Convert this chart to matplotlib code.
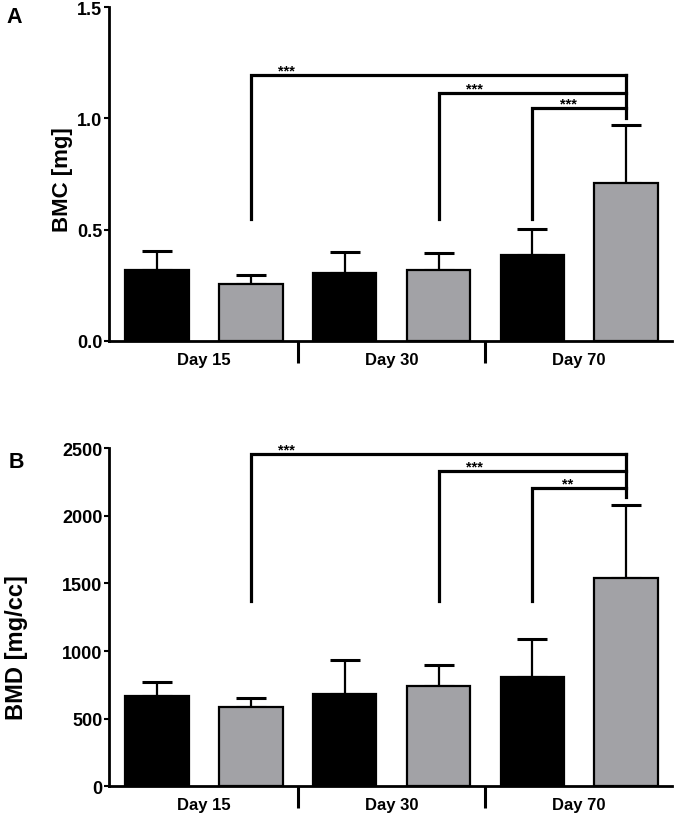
import numpy as np
import matplotlib.pyplot as plt

plt.rcParams['font.family'] = ['Liberation Sans', 'DejaVu Sans']
plt.rcParams['font.weight'] = 'bold'

# data
groups = ['Day 15', 'Day 30', 'Day 70']
bar_colors = ['black', '#a2a2a6', 'black', '#a2a2a6', 'black', '#a2a2a6']

bmc_mean = [0.32, 0.258, 0.305, 0.317, 0.387, 0.711]
bmc_err = [0.082, 0.040, 0.095, 0.078, 0.115, 0.261]
bmc_ticks = [0.0, 0.5, 1.0, 1.5]
bmc_ticklabels = ['0.0', '0.5', '1.0', '1.5']
# (left bar, bracket height, stars)
bmc_sig = [(1, 1.195, '***'), (3, 1.115, '***'), (4, 1.045, '***')]
bmc_drop = 0.547
bmc_right_end = 1.0

bmd_mean = [666, 584, 683, 745, 811, 1543]
bmd_err = [103, 67, 254, 152, 279, 538]
bmd_ticks = [0, 500, 1000, 1500, 2000, 2500]
bmd_ticklabels = ['0', '500', '1000', '1500', '2000', '2500']
bmd_sig = [(1, 2458, '***'), (3, 2330, '***'), (4, 2204, '**')]
bmd_drop = 1368
bmd_right_end = 2138


def panel(ax, mean, err, ticks, ticklabels, ylabel, sig, drop, right_end, labx, laby, labsize):
    x = np.arange(len(mean))
    ax.bar(x, mean, width=0.675, color=bar_colors, edgecolor='black', linewidth=1.6, zorder=2)
    ax.errorbar(x, mean, yerr=[np.zeros(len(err)), err], fmt='none', ecolor='black',
                elinewidth=1.6, capsize=10.5, capthick=2.2, zorder=1)
    # significance brackets
    xr = len(mean) - 1
    for x0, h, stars in sig:
        ax.plot([x0, x0, xr], [drop, h, h], color='black', lw=2.3, solid_joinstyle='miter', zorder=3)
        ax.annotate(stars, (x0 + 0.38, h), xytext=(0, 0.5), textcoords='offset points',
                    ha='center', va='baseline', fontsize=10.5, fontweight='bold')
    ax.plot([xr, xr], [max(s[1] for s in sig), right_end], color='black', lw=2.3, zorder=3)

    ax.set_xlim(-0.51, 5.49)
    ax.set_ylim(ticks[0], ticks[-1])
    ax.set_yticks(ticks)
    ax.set_yticklabels(ticklabels)
    ax.tick_params(axis='y', direction='out', length=3.5, width=1.5, labelsize=13, pad=1.5)
    ax.set_xticks([1.5, 3.5])
    ax.set_xticklabels([])
    ax.tick_params(axis='x', which='major', direction='out', length=16, width=2.2)
    ax.set_xticks([0.5, 2.5, 4.5], minor=True)
    ax.set_xticklabels(groups, minor=True, fontsize=12, fontweight='bold')
    ax.tick_params(axis='x', which='minor', length=0, pad=8)
    for s in ['top', 'right']:
        ax.spines[s].set_visible(False)
    for s in ['left', 'bottom']:
        ax.spines[s].set_linewidth(2.0)
    ax.set_ylabel(ylabel, fontsize=labsize, fontweight='bold')
    ax.yaxis.set_label_coords(labx, laby)


fig = plt.figure(figsize=(6.83, 8.2), dpi=100)
ax1 = fig.add_axes([0.160, 0.583, 0.824, 0.407])
ax2 = fig.add_axes([0.160, 0.040, 0.824, 0.412])

panel(ax1, bmc_mean, bmc_err, bmc_ticks, bmc_ticklabels, 'BMC [mg]', bmc_sig, bmc_drop, bmc_right_end,
      -0.064, 0.485, 16)
panel(ax2, bmd_mean, bmd_err, bmd_ticks, bmd_ticklabels, 'BMD [mg/cc]', bmd_sig, bmd_drop, bmd_right_end,
      -0.144, 0.414, 17)

fig.text(0.010, 0.991, 'A', fontsize=15.5, fontweight='bold', va='top')
fig.text(0.012, 0.449, 'B', fontsize=15.5, fontweight='bold', va='top')

fig.savefig('out.png', dpi=100)
